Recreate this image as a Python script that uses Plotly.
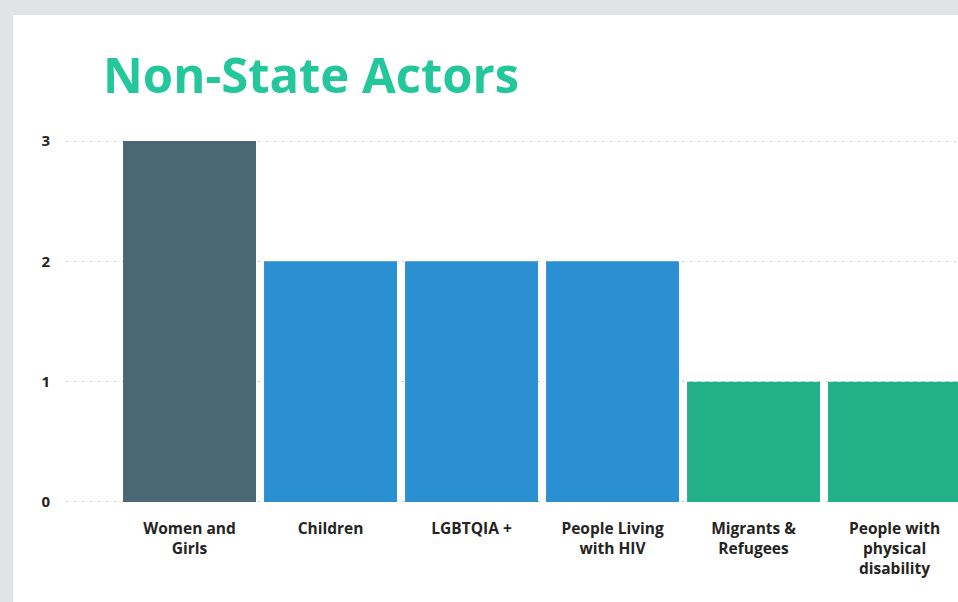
import plotly.graph_objects as go

# Dados
categorias = ['Women and<br>Girls', 'Children', 'LGBTQIA +', 'People Living<br>with HIV',
              'Migrants &<br>Refugees', 'People with<br>physical<br>disability']
valores = [3, 2, 2, 2, 1, 1]
cores = ['#4a6874', '#2b90d2', '#2b90d2', '#2b90d2', '#22b089', '#22b089']
y_ticks = [0, 1, 2, 3]

fig = go.Figure()

fig.add_trace(go.Bar(
    x=list(range(len(categorias))),
    y=valores,
    marker=dict(color=cores, line=dict(width=0)),
    hoverinfo='skip'
))

# Cartão branco sobre fundo cinza
fig.add_shape(
    type='rect', xref='paper', yref='paper',
    x0=-0.0594, x1=1.2, y0=-0.5, y1=1.335,
    fillcolor='white', line=dict(width=0), layer='below'
)

fig.update_layout(
    width=958, height=602,
    margin=dict(l=66, r=0, t=138, b=97),
    paper_bgcolor='#e2e3e5',
    plot_bgcolor='white',
    bargap=0.057,
    showlegend=False,
    title=dict(
        text='<b>Non-State Actors</b>',
        x=103 / 958, xanchor='left', xref='container',
        y=1 - 76 / 602, yanchor='middle', yref='container',
        font=dict(family='Open Sans', size=49, color='#24c69b')
    ),
    font=dict(family='Open Sans', color='#252423'),
    xaxis=dict(
        range=[-0.876, 5.45],
        tickmode='array',
        tickvals=list(range(len(categorias))),
        ticktext=['<b>' + c + '</b>' for c in categorias],
        tickfont=dict(size=15.5, color='#252423'),
        ticks='outside', ticklen=9, tickcolor='rgba(0,0,0,0)',
        showgrid=False, zeroline=False, showline=False
    ),
    yaxis=dict(
        range=[-0.025, 3.025],
        tickmode='array',
        tickvals=y_ticks,
        ticktext=['<b>%d</b>' % v for v in y_ticks],
        tickfont=dict(size=15, color='#252423'),
        ticks='outside', ticklen=12, tickcolor='rgba(0,0,0,0)',
        showgrid=True, gridcolor='#c8c8c8', griddash='2px,6px', gridwidth=1,
        zeroline=False, showline=False
    )
)

fig.write_html(
    'out.html',
    config={'displayModeBar': False},
    post_script="document.body.style.margin='0';document.body.style.overflow='hidden';"
)
